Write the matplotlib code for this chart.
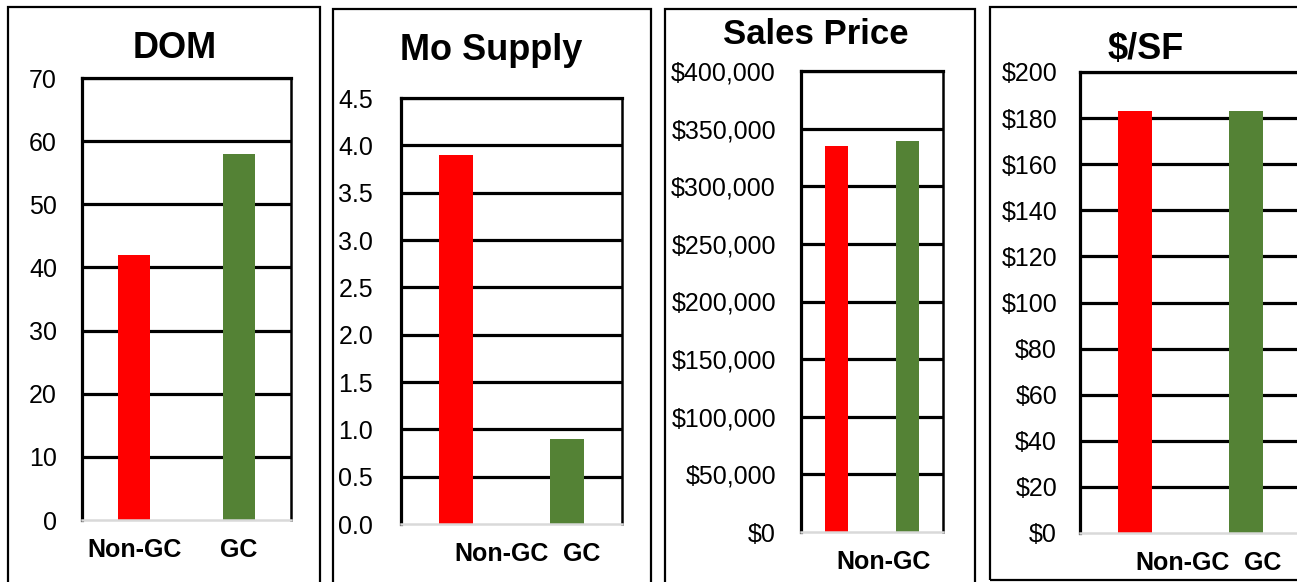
import matplotlib
matplotlib.use("Agg")
import matplotlib.pyplot as plt
from matplotlib.patches import Rectangle
from matplotlib.ticker import FuncFormatter

plt.rcParams["font.family"] = ["Liberation Sans", "DejaVu Sans"]

# data
titles = ["DOM", "Mo Supply", "Sales Price", "$/SF"]
categories = ["Non-GC", "GC"]
dom = [42, 58]
mo_supply = [3.9, 0.9]
sales_price = [335000, 339000]
price_sf = [183, 183]
values = [dom, mo_supply, sales_price, price_sf]
y_max = [70, 4.5, 400000, 200]
y_step = [10, 0.5, 50000, 20]
# the category labels shown under each panel (the third one only shows one)
shown_labels = [["Non-GC", "GC"], ["Non-GC", "GC"], ["Non-GC"], ["Non-GC", "GC"]]

bar_colors = ["#FF0000", "#548235"]

W, H = 1297, 582
DPI = 100

# layout, in pixels from the top-left corner
axes_px = [(82, 291, 78, 520), (401, 622, 98, 524), (801, 943, 71, 532), (1080, 1301, 72, 533)]
borders_px = [(8, 320, 7, 600), (333, 651, 9, 600), (665, 975, 9, 600), (990, 1320, 7, 580)]
title_px = [(175, 49, 26), (491, 50, 26), (816, 34, 25), (1146, 49, 26)]
label_pos = [[0.0, 1.0], [0.414, 1.138], [0.669], [0.432, 1.156]]
ytick_pad = [18, 20, 18, 16.5]

fmts = [
    lambda v, p: f"{v:.0f}",
    lambda v, p: f"{v:.1f}",
    lambda v, p: f"${v:,.0f}",
    lambda v, p: f"${v:,.0f}",
]

fig = plt.figure(figsize=(W / DPI, H / DPI), dpi=DPI)

for i in range(4):
    l, r, t, b = axes_px[i]
    ax = fig.add_axes([l / W, 1 - b / H, (r - l) / W, (b - t) / H])
    ax.set_axisbelow(True)
    ax.bar([0, 1], values[i], width=0.31, color=bar_colors, zorder=3)
    ax.set_xlim(-0.5, 1.5)
    ax.set_ylim(0, y_max[i])
    n = int(round(y_max[i] / y_step[i]))
    ax.set_yticks([k * y_step[i] for k in range(n + 1)])
    ax.yaxis.set_major_formatter(FuncFormatter(fmts[i]))
    ax.tick_params(axis="y", length=0, pad=ytick_pad[i], labelsize=18)
    ax.set_xticks(label_pos[i])
    ax.set_xticklabels(shown_labels[i], fontsize=18, fontweight="bold")
    ax.tick_params(axis="x", length=0, pad=13)
    ax.yaxis.grid(True, color="black", linewidth=2.3)
    ax.get_ygridlines()[0].set_visible(False)
    for side in ["left", "top"]:
        ax.spines[side].set_color("black")
        ax.spines[side].set_linewidth(2.3)
    ax.spines["right"].set_color("black")
    ax.spines["right"].set_linewidth(1.8)
    ax.spines["bottom"].set_color("#d9d9d9")
    ax.spines["bottom"].set_linewidth(1.8)
    ax.spines["bottom"].set_zorder(4)

    tx, ty, fs = title_px[i]
    fig.text(tx / W, 1 - ty / H, titles[i], ha="center", va="center",
             fontsize=fs, fontweight="bold")

    bl, br, bt, bb = borders_px[i]
    fig.add_artist(Rectangle((bl / W, 1 - bb / H), (br - bl) / W, (bb - bt) / H,
                             transform=fig.transFigure, fill=False,
                             edgecolor="black", linewidth=1.6, clip_on=False))

fig.savefig("out.png", dpi=DPI, facecolor="white")
